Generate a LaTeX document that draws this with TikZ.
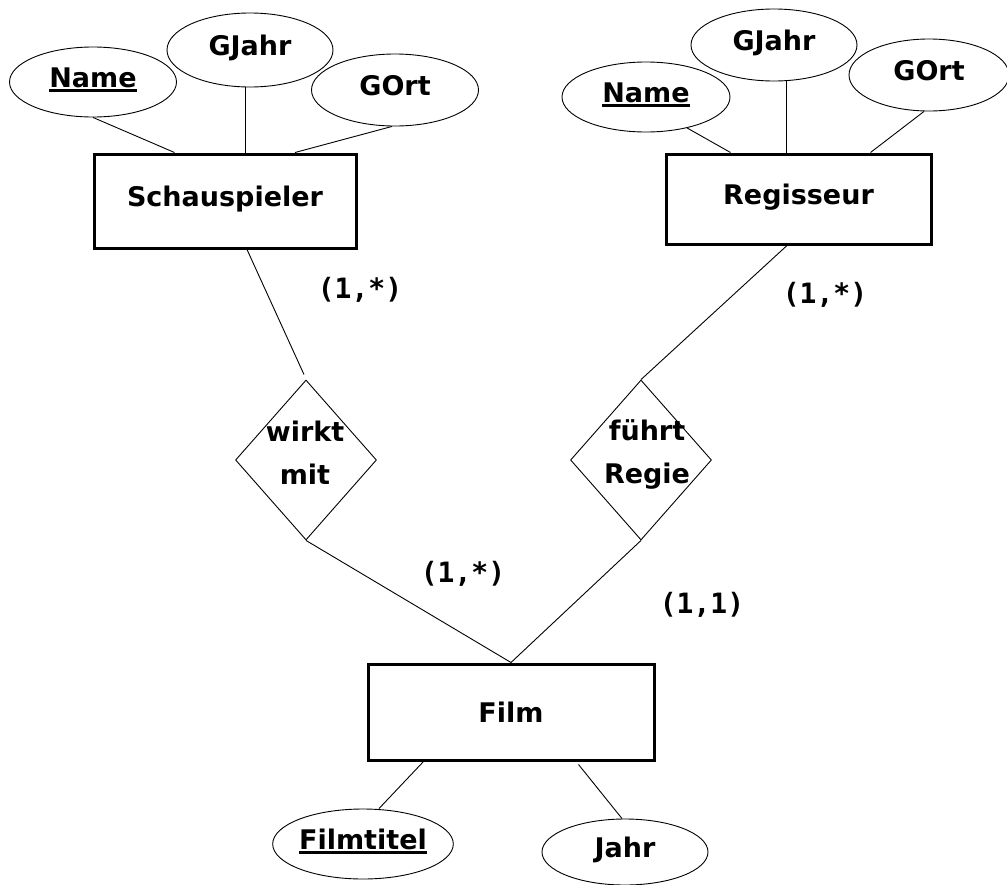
\documentclass[tikz,border=0pt]{standalone}
\usepackage{fontspec}
\setmainfont{DejaVu Sans}
\newfontfamily\lblfont{DejaVu Sans Mono}
\usetikzlibrary{shapes.geometric,calc}
\newcommand\keyul[1]{\setbox0\hbox{#1}\rlap{\rule[-4.5pt]{\wd0}{2.6pt}}\box0}
\tikzset{
  ent/.style={draw, line width=3pt, rectangle, inner sep=0pt, font=\fontsize{27}{30}\selectfont\bfseries},
  lift/.style={text height=20pt, text depth=10pt},
  attr/.style={draw, line width=0.9pt, ellipse, inner sep=0pt, lift, font=\fontsize{27}{30}\selectfont\bfseries},
  rel/.style={draw, line width=0.9pt, diamond, inner sep=0pt, minimum width=141pt, minimum height=160pt},
  reltext/.style={align=center, inner sep=0pt, font=\fontsize{27}{43}\selectfont\bfseries},
  card/.style={inner sep=0pt, font=\lblfont\bfseries\fontsize{28}{30}\selectfont},
  conn/.style={line width=0.9pt},
}
\begin{document}
\begin{tikzpicture}[x=1pt,y=-1pt]
\useasboundingbox (0,0) rectangle (1007,884);
% entities
\node[ent, lift, minimum width=262pt, minimum height=94pt] (s) at (225,201) {Schauspieler};
\node[ent, lift, minimum width=265pt, minimum height=90pt] (r) at (798.5,199) {Regisseur};
\node[ent, minimum width=286pt, minimum height=96pt] (f) at (511,712) {Film};
% attributes Schauspieler
\node[attr, minimum width=167pt, minimum height=70pt] (sn) at (93,82) {\keyul{Name}};
\node[attr, minimum width=166pt, minimum height=74pt] (sgj) at (250,50) {GJahr};
\node[attr, minimum width=167pt, minimum height=72pt] (sgo) at (395,90) {GOrt};
% attributes Regisseur
\node[attr, minimum width=168pt, minimum height=70pt] (rn) at (646,97) {\keyul{Name}};
\node[attr, minimum width=166pt, minimum height=72pt] (rgj) at (774,45) {GJahr};
\node[attr, minimum width=160pt, minimum height=72pt] (rgo) at (929,75) {GOrt};
% attributes Film
\node[attr, minimum width=168pt, minimum height=70pt] (ft) at (363,844) {\keyul{Filmtitel}};
\node[attr, minimum width=166pt, minimum height=66pt] (fj) at (625,852) {Jahr};
% relationships
\node[rel] (wm) at (306,460) {};
\node[reltext] (wmt) at (305,453) {wirkt\\mit};
\node[rel] (fr) at (641,460) {};
\node[reltext] (frt) at (647,454) {führt\\Regie};
% cardinalities
\node[card] (c1) at (360,290) {(1,*)};
\node[card] (c2) at (825,295) {(1,*)};
\node[card] (c3) at (463,574) {(1,*)};
\node[card] (c4) at (702,605) {(1,1)};
% connectors
\draw[conn] (sn.south) -- ($(s.north west)+(82,0)$);
\draw[conn] ($(sgj.south)+(-5,0)$) -- ($(s.north)+(20,0)$);
\draw[conn] ($(sgo.south)+(-3,0)$) -- ($(s.north)+(70,0)$);
\draw[conn] (rn.-37) -- ($(r.north west)+(66,0)$);
\draw[conn] ($(rgj.south)+(12,0)$) -- ($(r.north)+(-12.5,0)$);
\draw[conn] ($(rgo.south)+(-5,0)$) -- ($(r.north west)+(206,0)$);
\draw[conn] ($(s.south)+(22,0)$) -- ($(wm.north)+(-2,-5)$);
\draw[conn] ($(r.south)+(-11.5,0)$) -- (fr.north);
\draw[conn] (wm.south) -- (f.north);
\draw[conn] (fr.south) -- (f.north);
\draw[conn] ($(f.south west)+(57,0)$) -- ($(ft.north)+(16,0)$);
\draw[conn] ($(f.south west)+(212,3)$) -- ($(fj.north)+(-3,0)$);
\end{tikzpicture}
\end{document}
